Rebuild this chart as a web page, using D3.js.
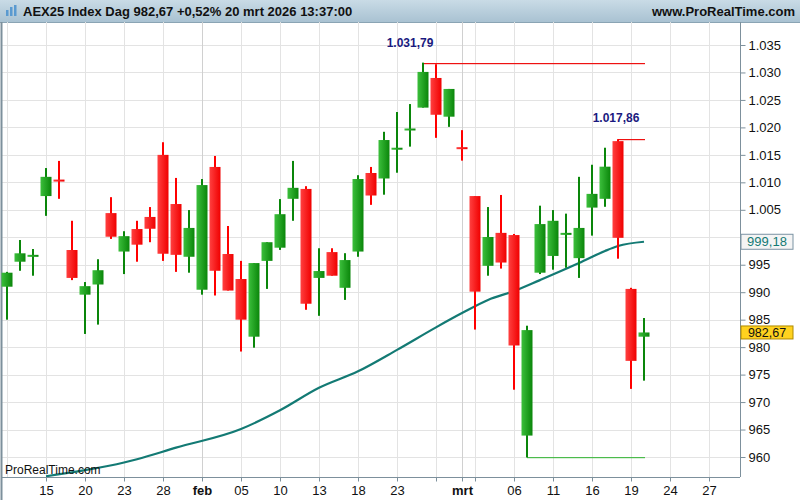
<!DOCTYPE html>
<html><head><meta charset="utf-8">
<script src="https://cdn.jsdelivr.net/npm/d3@7"></script>
<style>body{margin:0;background:#fff}svg{display:block;font-family:Arial,"Liberation Sans",sans-serif}</style>
</head><body><svg id="c" width="800" height="500"></svg>
<script>
// trading day index 0 = 12 jan 2026 ... 49 = 20 mrt 2026
const opens  = [991.0,995.55,996.8,1007.5,1010.5,997.68,989.55,991.4,1004.4,997.4,1001.5,1003.7,1015.0,1006.05,996.45,990.45,1012.8,996.95,992.4,981.9,995.7,998.1,1007.0,1008.8,992.6,997.3,990.8,997.4,1011.7,1010.7,1016.1,1019.6,1023.6,1029.0,1021.95,1016.4,1007.5,994.8,1000.8,1000.4,963.9,993.55,996.6,1000.6,996.2,1005.4,1007.0,1017.5,990.6,981.9];
const highs  = [993.7,999.5,997.86,1012.6,1013.9,1003.0,991.85,996.0,1007.3,1001.1,1003.0,1005.5,1017.3,1010.8,1004.95,1010.6,1014.8,1002.05,995.7,995.3,999.1,1006.95,1013.9,1009.3,998.0,998.0,997.1,1011.3,1012.8,1019.2,1022.8,1024.25,1031.79,1031.5,1027.0,1019.5,1007.5,1005.5,1007.7,1000.6,983.9,1005.75,1004.95,1004.3,1011.0,1013.2,1016.3,1017.86,990.8,985.3];
const lows   = [985.0,993.9,993.0,1003.9,1007.0,992.2,982.4,984.1,999.7,993.3,995.55,999.1,995.7,993.7,993.55,989.55,989.4,990.3,979.2,979.9,990.6,997.7,1003.0,986.8,985.7,993.0,988.6,996.45,1005.9,1007.75,1011.75,1016.5,1023.6,1018.1,1020.1,1013.95,983.2,993.0,994.3,972.25,959.91,993.3,994.1,994.45,992.6,1000.3,1005.55,996.1,972.4,973.9];
const closes = [993.55,997.08,996.8,1011.0,1010.3,992.6,991.1,994.0,1000.1,1000.2,998.65,1001.55,997.0,996.8,1001.7,1009.5,993.9,990.3,985.0,995.3,999.1,1004.2,1009.0,987.9,993.85,993.0,995.85,1010.6,1007.6,1017.7,1016.3,1019.8,1030.1,1022.3,1027.0,1016.2,990.1,1000.05,995.4,980.3,983.1,1002.4,1003.0,1000.8,1001.7,1007.9,1012.85,999.9,977.5,982.67];
const maIdx  = [3,6,9,10,13,18,21,24,27,30,33,35,37,39,41,44,46,47,49];
const maVals = [956.5,957.6,959.0,959.6,961.7,965.1,968.5,972.6,975.6,979.5,983.6,986.2,988.6,990.2,992.2,995.3,997.5,998.4,999.18];
const tickIdx = [3,6,9,12,15,18,21,24,27,30,33,35,36,39,42,45,48,51,54];
const tickLab = ["15","20","23","28","feb","05","10","13","18","23","","mrt","","06","11","16","19","24","27"];
const priceTicks = [960,965,970,975,980,985,990,995,1000,1005,1010,1015,1020,1025,1030,1035];

(function(){
const svg = d3.select("#c");
const W=800, pL=1, pR=740, pT=22, pB=477;
const x = d3.scaleLinear().domain([0,1]).range([7,20]);
const y = d3.scaleLinear().domain([960,1035]).range([457,45]);
const fmt = v => d3.format(",.0f")(v).replace(/,/g,".");
const fmt2 = v => d3.format(",.2f")(v).replace(/,/g,"#").replace(/\./g,",").replace(/#/g,".");

const defs = svg.append("defs");
const g1 = defs.append("linearGradient").attr("id","gg");
g1.append("stop").attr("offset","0").attr("stop-color","#3cbf3c");
g1.append("stop").attr("offset","1").attr("stop-color","#0a860a");
const g2 = defs.append("linearGradient").attr("id","gr");
g2.append("stop").attr("offset","0").attr("stop-color","#ff4040");
g2.append("stop").attr("offset","1").attr("stop-color","#f00000");
const g3 = defs.append("linearGradient").attr("id","gt").attr("x1",0).attr("x2",0).attr("y1",0).attr("y2",1);
g3.append("stop").attr("offset","0").attr("stop-color","#c9dbe6");
g3.append("stop").attr("offset","1").attr("stop-color","#a9c2d2");
defs.append("clipPath").attr("id","pc").append("rect").attr("x",pL).attr("y",pT).attr("width",pR-pL).attr("height",pB-pT);

svg.append("rect").attr("x",0).attr("y",0).attr("width",W).attr("height",22).attr("fill","url(#gt)");
svg.append("line").attr("x1",0).attr("x2",W).attr("y1",22.5).attr("y2",22.5).attr("stroke","#8aa4b4");
[[6,10,6],[10,7,9],[14,5,11]].forEach(d=>{svg.append("rect").attr("x",d[0]).attr("y",d[1]).attr("width",2.5).attr("height",d[2]).attr("fill","#5a9ad0");});
svg.append("text").attr("x",23).attr("y",16).attr("font-size",13).attr("font-weight","bold").attr("fill","#111").text("AEX25 Index Dag 982,67 +0,52% 20 mrt 2026 13:37:00");
svg.append("text").attr("x",795).attr("y",16).attr("text-anchor","end").attr("font-size",13).attr("font-weight","bold").attr("fill","#111").text("www.ProRealTime.com");

const grid = svg.append("g");
priceTicks.forEach(p=>grid.append("line").attr("x1",pL).attr("x2",pR).attr("y1",Math.round(y(p))+0.5).attr("y2",Math.round(y(p))+0.5).attr("stroke","#e3e3e3"));
grid.append("line").attr("x1",7.5).attr("x2",7.5).attr("y1",pT).attr("y2",pB).attr("stroke","#e3e3e3");
tickIdx.forEach((t,i)=>grid.append("line").attr("x1",Math.round(x(t))+0.5).attr("x2",Math.round(x(t))+0.5).attr("y1",pT).attr("y2",pB).attr("stroke",(tickLab[i]=="feb"||tickLab[i]=="mrt")?"#d0d0d0":"#e3e3e3"));

svg.append("line").attr("x1",1.5).attr("x2",1.5).attr("y1",pT).attr("y2",500).attr("stroke","#7d909c").attr("stroke-width",2);
const ay = svg.append("g").attr("transform",`translate(${pR+0.5},0)`)
  .call(d3.axisRight(y).tickValues(priceTicks).tickSize(5).tickPadding(3).tickFormat(d=>d===1000?"":fmt(d)));
ay.select(".domain").attr("stroke","#7d909c").attr("d",`M0,${pT}V${pB}`);
ay.selectAll("line").attr("stroke","#7d909c");
ay.selectAll("text").attr("font-size",13).attr("fill","#111").attr("font-family","Arial,'Liberation Sans',sans-serif");
const ax = svg.append("g").attr("transform",`translate(0,${pB+0.5})`)
  .call(d3.axisBottom(x).tickValues(tickIdx).tickSize(4).tickPadding(4).tickFormat((d,i)=>tickLab[i]));
ax.select(".domain").attr("stroke","#7d909c").attr("d",`M${pL},0H${pR}`);
ax.selectAll("line").attr("stroke","#7d909c");
ax.selectAll("text").attr("font-size",13).attr("fill","#111").attr("font-family","Arial,'Liberation Sans',sans-serif")
  .attr("font-weight",(d,i)=>(tickLab[i]=="feb"||tickLab[i]=="mrt")?"bold":"normal");

const plot = svg.append("g").attr("clip-path","url(#pc)");
plot.append("path").datum(maIdx.map((d,i)=>[d,maVals[i]]))
  .attr("d",d3.line().x(d=>x(d[0])).y(d=>y(d[1])).curve(d3.curveMonotoneX))
  .attr("fill","none").attr("stroke","#137a74").attr("stroke-width",2.2);

const hiI=32, hi2I=47, loI=40, endI=49;
const hl=(i,v,col)=>plot.append("rect").attr("x",x(i)).attr("width",x(endI)+1-x(i)).attr("y",Math.round(y(v))).attr("height",1.2).attr("fill",col);
hl(hiI,highs[hiI],"#ee1111"); hl(hi2I,highs[hi2I],"#ee1111"); hl(loI,lows[loI],"#4cbb4c");

opens.forEach((o,i)=>{
  const c=closes[i], up=c>=o, cx=Math.round(x(i));
  plot.append("rect").attr("x",cx-1).attr("width",2).attr("y",y(highs[i])).attr("height",y(lows[i])-y(highs[i])).attr("fill",up?"#0a860a":"#ff0000");
  const t=y(Math.max(o,c)), b=y(Math.min(o,c));
  plot.append("rect").attr("x",cx-5.5).attr("width",11).attr("y",t).attr("height",Math.max(2,b-t)).attr("fill",up?"url(#gg)":"url(#gr)");
});

svg.append("text").attr("x",x(hiI)-13).attr("y",y(highs[hiI])-16).attr("text-anchor","middle").attr("font-size",12).attr("font-weight","bold").attr("fill","#1a1a80").text(fmt2(highs[hiI]));
svg.append("text").attr("x",x(hi2I)-2).attr("y",y(highs[hi2I])-17).attr("text-anchor","middle").attr("font-size",12).attr("font-weight","bold").attr("fill","#1a1a80").text(fmt2(highs[hi2I]));
svg.append("text").attr("x",5).attr("y",474).attr("font-size",12).attr("fill","#111").text("ProRealTime.com");

const maLast=maVals[maVals.length-1], cl=closes[endI];
svg.append("rect").attr("x",741).attr("y",y(maLast)-7.5).attr("width",52).attr("height",15).attr("fill","#f4f4f4").attr("stroke","#7b93a3");
svg.append("text").attr("x",767).attr("y",y(maLast)+4.5).attr("text-anchor","middle").attr("font-size",13).attr("fill","#137a74").text(fmt2(maLast));
svg.append("rect").attr("x",741).attr("y",y(cl)-6.5).attr("width",52).attr("height",13).attr("fill","#ffd21f").attr("stroke","#b08a00");
svg.append("text").attr("x",767).attr("y",y(cl)+4.5).attr("text-anchor","middle").attr("font-size",12.5).attr("fill","#111").text(fmt2(cl));
})();
</script></body></html>
